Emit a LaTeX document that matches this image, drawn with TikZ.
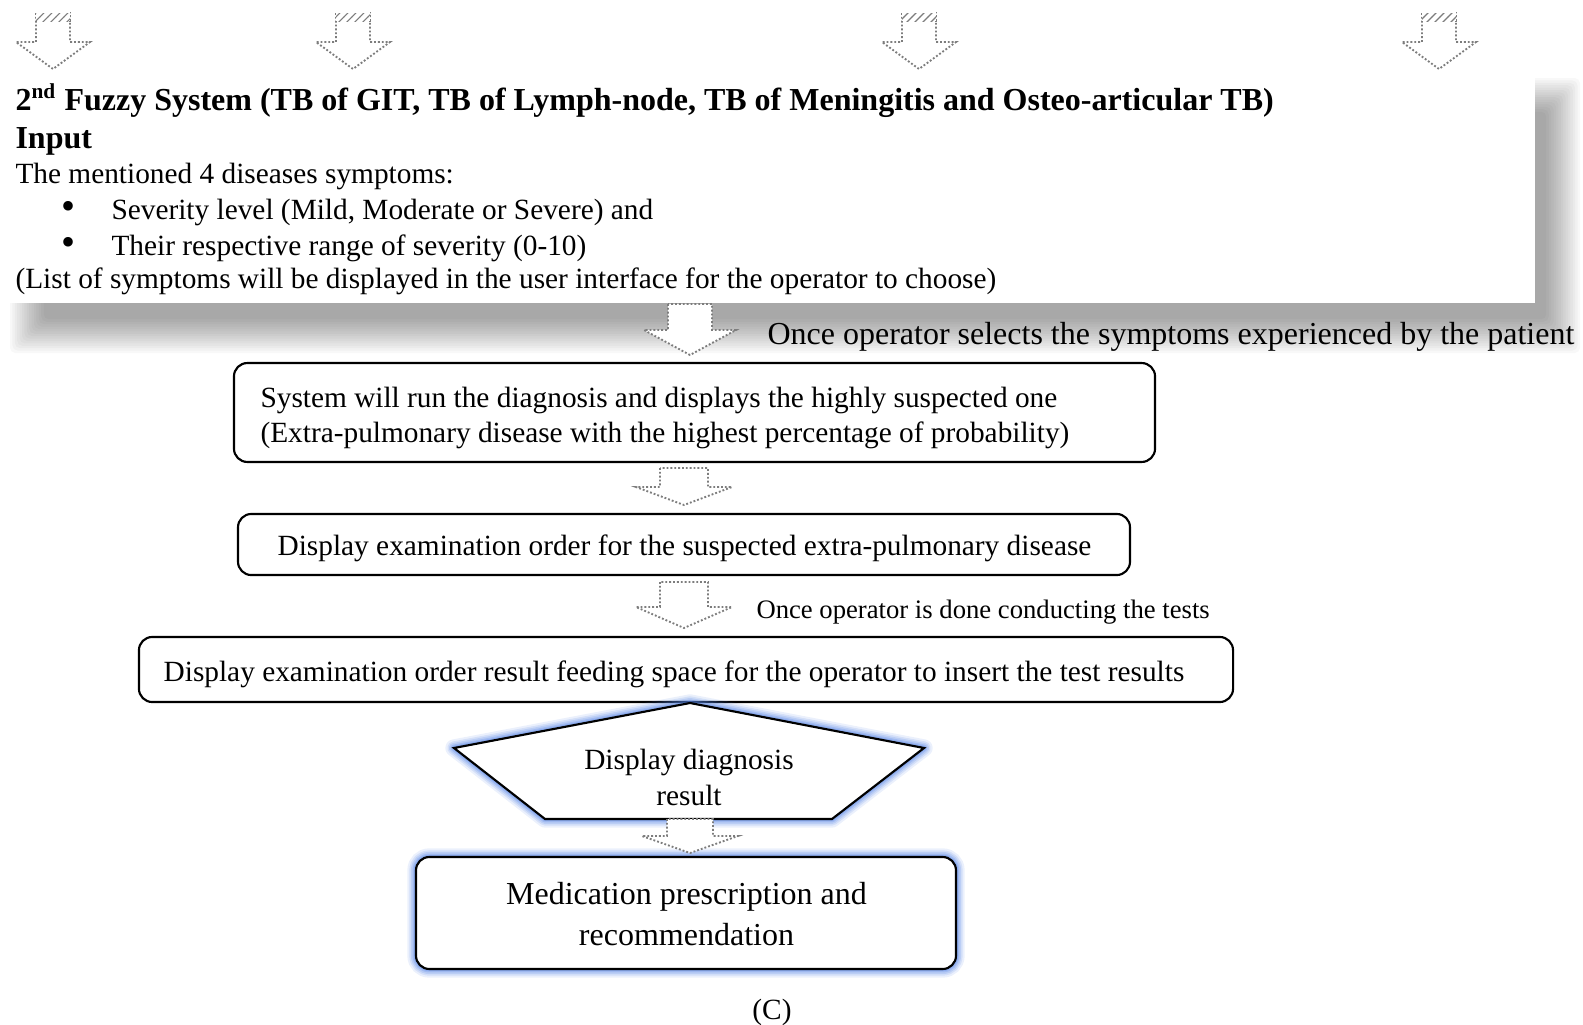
\documentclass[tikz,border=0pt]{standalone}
\usepackage{fontspec}
\setmainfont{Liberation Serif}
\usetikzlibrary{patterns}

\definecolor{glowblue}{RGB}{90,135,230}
\definecolor{arrowgray}{RGB}{125,125,125}

% downward block arrow: name, x, top, shoulder, tip, stem half-width, head half-width
\newcommand\dnarrow[7]{%
  \coordinate (#1) at (#2,#5);
  \filldraw[blockarrow] (#2-#6,#3) -- (#2-#6,#4) -- (#2-#7,#4) -- (#1)
    -- (#2+#7,#4) -- (#2+#6,#4) -- (#2+#6,#3) -- cycle;
}
% same arrow with a ragged, hatched top end
\newcommand\cutarrow[2]{%
  \dnarrow{#1}{#2}{13}{42}{69}{17}{37}
  \fill[white] (#2-17,12) rectangle (#2+17,22);
  \fill[pattern=north east lines, pattern color=arrowgray] (#2-17,13) rectangle (#2+17,21);
  \draw[blockarrow] (#2-17,21) -- (#2-17,22) (#2+17,21) -- (#2+17,22);
}

\begin{document}
\begin{tikzpicture}[x=0.375pt,y=-0.375pt,
  blockarrow/.style={draw=arrowgray, fill=white, line width=0.7pt,
    dash pattern=on 0.7pt off 0.75pt},
  flowbox/.style={draw=black, fill=white, line width=0.8pt, rounded corners=5pt,
    inner sep=0pt},
  txt/.style={inner sep=0pt, anchor=base west, font=\fontsize{11}{13}\selectfont},
  ctxt/.style={txt, anchor=base},
  head/.style={txt, font=\fontsize{12}{14}\bfseries\selectfont},
  dot/.style={ctxt, font=\fontsize{15}{15}\selectfont},
]
\useasboundingbox (0,0) rectangle (1583,1025);

% soft drop shadow of the input panel
\foreach \i in {0,...,14} {
  \fill[black, opacity=0.026, rounded corners=2pt]
    ({10+2.4*\i},{78+2.4*\i}) rectangle ({1580-2.4*\i},{353-2.4*\i});
}
\node[fill=white, inner sep=0pt, anchor=north west,
  minimum width=575.6pt, minimum height=86.6pt] (panel) at (0,72) {};

% arrows coming in from above
\cutarrow{ta1}{53}
\cutarrow{ta2}{353}
\cutarrow{ta3}{919}
\cutarrow{ta4}{1439}

% panel text
\node[head] (hdr) at (15,110) {2\textsuperscript{nd} Fuzzy System (TB of GIT, TB of Lymph-node, TB of Meningitis and Osteo-articular TB)};
\node[head] (inp) at (15,148) {Input};
\node[txt] (sym) at (15,183) {The mentioned 4 diseases symptoms:};
\node[dot] (bl1) at (69,219) {\textbullet};
\node[txt] (it1) at (111,219) {Severity level (Mild, Moderate or Severe) and};
\node[dot] (bl2) at (69,255) {\textbullet};
\node[txt] (it2) at (111,255) {Their respective range of severity (0-10)};
\node[txt] (lst) at (15,288) {(List of symptoms will be displayed in the user interface for the operator to choose)};

% flow boxes
\node[flowbox, minimum width=345.4pt, minimum height=37.1pt] (run) at (694.5,412.5) {};
\node[flowbox, minimum width=334.5pt, minimum height=22.9pt] (order) at (684,544.5) {};
\node[flowbox, minimum width=410.3pt, minimum height=24.4pt] (feed) at (686,669.5) {};

% connectors between the steps
\dnarrow{a1}{690}{304}{330}{355}{22}{46}
\dnarrow{a2}{684}{468}{487}{505}{24}{48}
\dnarrow{a3}{684}{582}{607}{628}{24}{48}

\node[txt, font=\fontsize{12}{14}\selectfont] (sel) at (767,344) {Once operator selects the symptoms experienced by the patient};
\node[txt] (r1) at (260,407) {System will run the diagnosis and displays the highly suspected one};
\node[txt] (r2) at (260,442) {(Extra-pulmonary disease with the highest percentage of probability)};
\node[ctxt] (o1) at (684.5,555) {Display examination order for the suspected extra-pulmonary disease};
\node[txt, font=\fontsize{10}{12}\selectfont] (tst) at (756,618) {Once operator is done conducting the tests};
\node[ctxt] (f1) at (674,681) {Display examination order result feeding space for the operator to insert the test results};

% result display (pentagon) with blue glow
\coordinate (pt) at (690,703);
\coordinate (pl) at (454,748);
\coordinate (pr) at (924,748);
\coordinate (pbl) at (545,819);
\coordinate (pbr) at (832,819);
\foreach \w/\o in {6.5/0.12,5/0.16,3.8/0.2,2.6/0.26,1.6/0.32} {
  \draw[glowblue, opacity=\o, line width=\w pt, line join=round]
    (pt) -- (pr) -- (pbr) -- (pbl) -- (pl) -- cycle;
}
\filldraw[fill=white, draw=black, line width=0.8pt, line join=miter]
  (pt) -- (pr) -- (pbr) -- (pbl) -- (pl) -- cycle;
\node[ctxt] (dd1) at (689,769) {Display diagnosis};
\node[ctxt] (dd2) at (689,805) {result};

% final box with blue glow
\foreach \w/\o in {6.5/0.12,5/0.16,3.8/0.2,2.6/0.26,1.6/0.32} {
  \draw[glowblue, opacity=\o, line width=\w pt, rounded corners=5pt]
    (416,857) rectangle (956,969);
}
\node[flowbox, minimum width=202.5pt, minimum height=42pt] (med) at (686,913) {};

\dnarrow{a4}{690}{819}{836}{853}{23}{48}

\node[ctxt, font=\fontsize{12}{14}\selectfont] (m1) at (686.5,904) {Medication prescription and};
\node[ctxt, font=\fontsize{12}{14}\selectfont] (m2) at (686.5,945) {recommendation};

\node[ctxt] (cap) at (772,1019) {(C)};
\end{tikzpicture}
\end{document}
